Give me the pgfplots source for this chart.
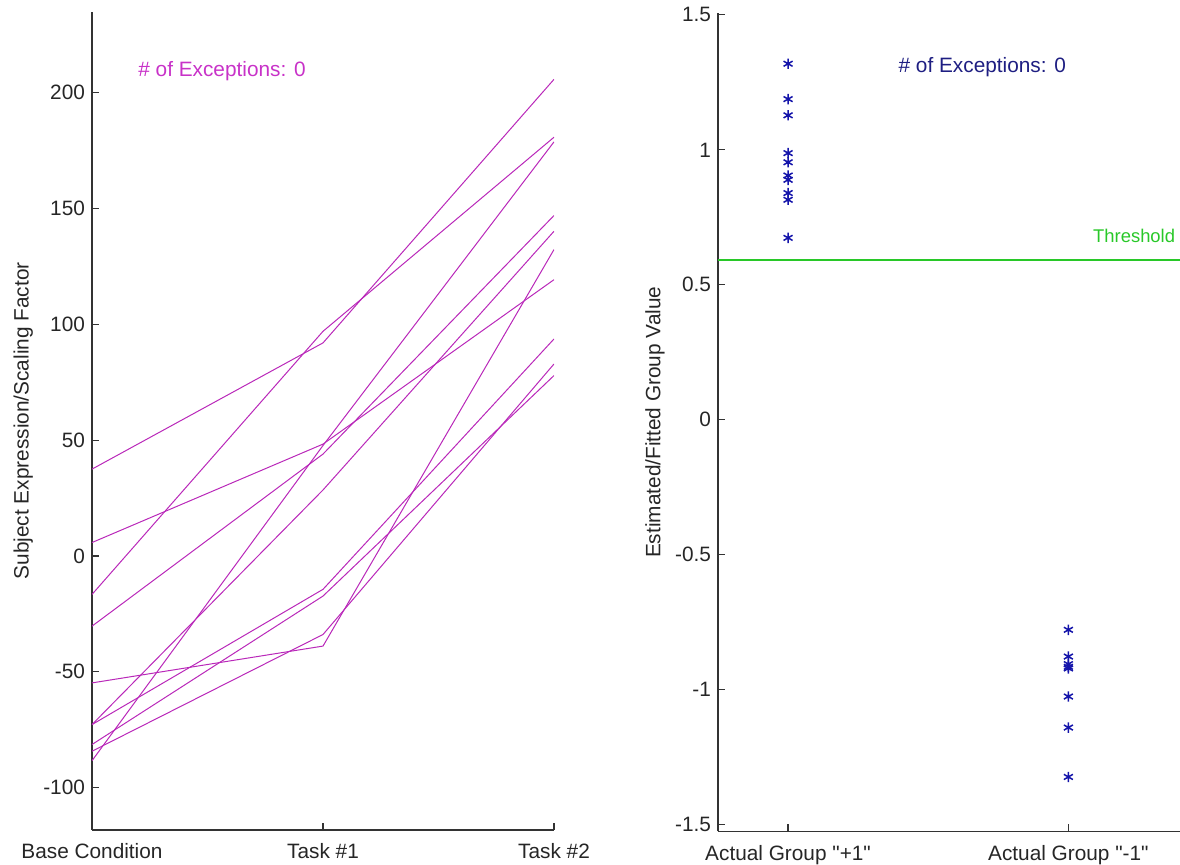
\documentclass[border=0pt]{standalone}
\usepackage{fontspec}
\setmainfont{Liberation Sans}[Ligatures=TeXOff]
\usepackage{pgfplots}
\pgfplotsset{compat=1.18}
\definecolor{mag}{RGB}{185,40,185}
\definecolor{magtxt}{RGB}{200,50,200}
\definecolor{bluemk}{RGB}{20,20,170}
\definecolor{navytxt}{RGB}{30,30,130}
\definecolor{thrgreen}{RGB}{40,200,40}
\begin{document}
\begin{tikzpicture}[font=\fontsize{10.4}{12}\selectfont]
\useasboundingbox (0,0) rectangle (590pt,432.5pt);
\pgfplotsset{mystyle/.style={
  scale only axis,
  axis x line*=bottom, axis y line*=left,
  axis line style={-, line width=0.6pt, black!80},
  tick align=inside,
  major tick length=3.5pt,
  tick style={line width=0.6pt, black!80},
  ticklabel style={font=\fontsize{10.4}{12}\selectfont, text=black!85},
  xticklabel style={yshift=-3.2pt},
  label style={font=\fontsize{10.4}{12}\selectfont, text=black!85},
}}
% ---------- left panel ----------
\begin{axis}[mystyle, at={(46pt,17.5pt)}, anchor=south west,
  width=231pt, height=409.15pt,
  xmin=0, xmax=2, ymin=-118.3, ymax=235,
  xtick={0,1,2}, xticklabels={Base Condition, Task \#1, Task \#2},
  ytick={-100,-50,0,50,100,150,200},
  yticklabels={-100,-50,0,50,100,150,200},
  ylabel={Subject Expression/Scaling Factor},
  ylabel style={at={(axis description cs:-0.149,0.5)}, anchor=center},
]
\addplot[color=mag, line width=0.5pt] coordinates {(0,37.5) (1,92) (2,205.8)};
\addplot[color=mag, line width=0.5pt] coordinates {(0,-16.6) (1,97) (2,180.8)};
\addplot[color=mag, line width=0.5pt] coordinates {(0,5.8) (1,48.3) (2,119.3)};
\addplot[color=mag, line width=0.5pt] coordinates {(0,-30.3) (1,44) (2,147)};
\addplot[color=mag, line width=0.5pt] coordinates {(0,-88.4) (1,47.7) (2,178.8)};
\addplot[color=mag, line width=0.5pt] coordinates {(0,-72.8) (1,28.5) (2,140.2)};
\addplot[color=mag, line width=0.5pt] coordinates {(0,-54.8) (1,-38.9) (2,132.3)};
\addplot[color=mag, line width=0.5pt] coordinates {(0,-72.8) (1,-14.4) (2,93.7)};
\addplot[color=mag, line width=0.5pt] coordinates {(0,-81.4) (1,-17.3) (2,77.9)};
\addplot[color=mag, line width=0.5pt] coordinates {(0,-84.3) (1,-33.9) (2,82.9)};
\node[anchor=west, text=magtxt, inner sep=0pt] at (axis cs:0.199,209.4) {\# of Exceptions: 0};
\end{axis}
% ---------- right panel ----------
\begin{axis}[mystyle, at={(359pt,16.75pt)}, anchor=south west,
  width=231.25pt, height=409.25pt,
  xmin=0.75, xmax=2.4, ymin=-1.525, ymax=1.507,
  xtick={1,2}, xticklabels={Actual Group "+1", Actual Group "-1"},
  ytick={-1.5,-1,-0.5,0,0.5,1,1.5},
  yticklabels={-1.5,-1,-0.5,0,0.5,1,1.5},
  ylabel={Estimated/Fitted Group Value},
  ylabel style={at={(axis description cs:-0.136,0.5)}, anchor=center},
]
\addplot[draw=thrgreen, line width=0.9pt, no marks] table {
x y
0.75 0.593
2.4 0.593
};
\addplot[only marks, mark=asterisk, mark size=2.6pt, color=bluemk, mark options={line width=0.75pt}]
  coordinates {(1,1.319) (1,1.188) (1,1.128) (1,0.988) (1,0.954) (1,0.905) (1,0.889) (1,0.840) (1,0.815) (1,0.674)};
\addplot[only marks, mark=asterisk, mark size=2.6pt, color=bluemk, mark options={line width=0.75pt}]
  coordinates {(2,-0.778) (2,-0.877) (2,-0.905) (2,-0.915) (2,-0.921) (2,-1.025) (2,-1.140) (2,-1.323)};
\node[anchor=west, text=navytxt, inner sep=0pt] at (axis cs:1.393,1.307) {\# of Exceptions: 0};
\node[anchor=east, text=thrgreen, inner sep=0pt, font=\fontsize{9.2}{11}\selectfont] at (axis cs:2.382,0.681) {Threshold};
\end{axis}
\end{tikzpicture}
\end{document}
